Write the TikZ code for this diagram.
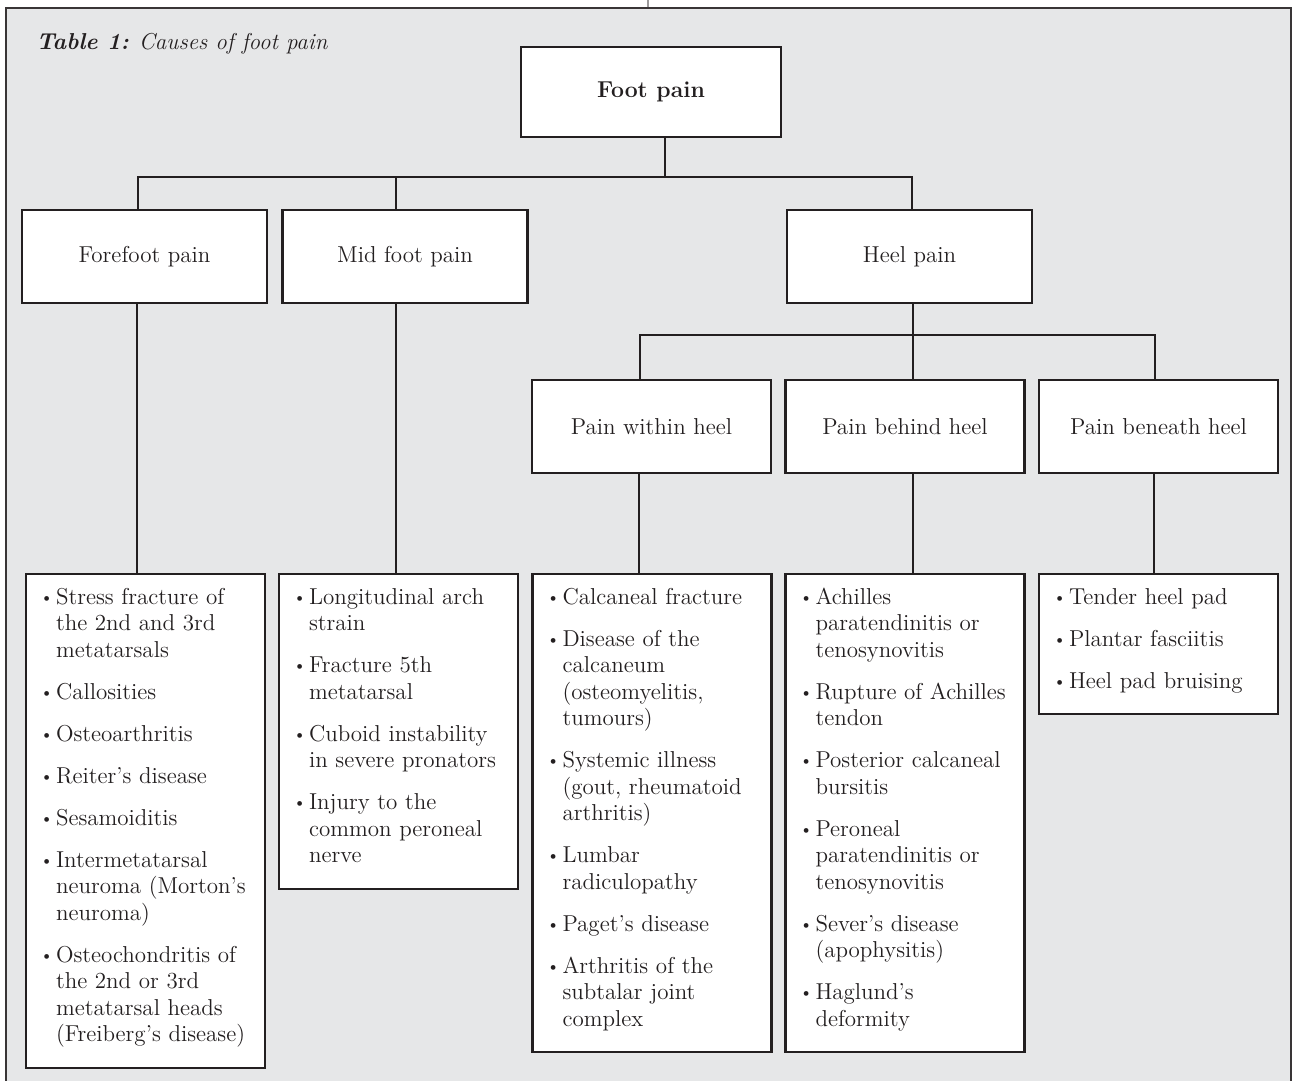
\documentclass[tikz,border=0pt]{standalone}
\usepackage{xcolor}
\usepackage{tikz}

\definecolor{tablegray}{HTML}{E6E7E8}
\definecolor{ink}{HTML}{231F20}
\newcommand{\bul}{\makebox[8pt][l]{\raisebox{0.9pt}{\footnotesize\textbullet}}}
\newcommand{\listgap}{\\[7.75pt]}

\begin{document}
\begin{tikzpicture}[x=0.5pt, y=-0.5pt,
      box/.style={rectangle, draw=ink, line width=1.2pt, fill=white, minimum height=46.5pt, align=center, text=ink, font=\fontsize{11.5}{13.25}\selectfont},
      listbox/.style={rectangle, draw=ink, line width=1.2pt, fill=white, anchor=north, text width=105.5pt, inner xsep=7pt, inner ysep=5.75pt, align=left, text=ink, font=\fontsize{11.5}{13.25}\selectfont},
      link/.style={draw=ink, line width=1pt}
    ]
      \useasboundingbox (0,0) rectangle (1292,1081);
      \draw[ink!45, line width=0.6pt] (648,0) -- (648,8);
      \draw[fill=tablegray, draw=ink!90, line width=1.4pt] (6,8) rectangle (1291,1100);

      \node[anchor=base west, text=ink, font=\fontsize{11.5}{13.25}\selectfont, inner sep=0pt] (title) at (36,50) {\textbf{\textit{Table 1:}} \textit{Causes of foot pain}};

      \node[box, minimum width=130pt, minimum height=45pt, font=\fontsize{11.5}{13.25}\selectfont\bfseries] (foot) at (651,92) {Foot pain};
      \node[box, minimum width=122.5pt] (forefoot) at (144.5,256.5) {Forefoot pain};
      \node[box, minimum width=122.5pt] (midfoot)  at (405,256.5)   {Mid foot pain};
      \node[box, minimum width=122.5pt] (heel)     at (909.5,256.5) {Heel pain};
      \node[box, minimum width=119.5pt] (within)   at (651.5,426.5) {Pain within heel};
      \node[box, minimum width=119.5pt] (behind)   at (905,426.5)   {Pain behind heel};
      \node[box, minimum width=119.5pt] (beneath)  at (1158.5,426.5){Pain beneath heel};

      \node[listbox] (forefootlist) at (145.5,573) {\begin{tabular}{@{}l@{}l@{}}
        \bul & Stress fracture of\\ & the 2nd and 3rd\\ & metatarsals\listgap
        \bul & Callosities\listgap
        \bul & Osteoarthritis\listgap
        \bul & Reiter’s disease\listgap
        \bul & Sesamoiditis\listgap
        \bul & Intermetatarsal\\ & neuroma (Morton’s\\ & neuroma)\listgap
        \bul & Osteochondritis of\\ & the 2nd or 3rd\\ & metatarsal heads\\ & (Freiberg’s disease)\\[3.25pt]
      \end{tabular}};
      \node[listbox] (midfootlist) at (398.5,573) {\begin{tabular}{@{}l@{}l@{}}
        \bul & Longitudinal arch\\ & strain\listgap
        \bul & Fracture 5th\\ & metatarsal\listgap
        \bul & Cuboid instability\\ & in severe pronators\listgap
        \bul & Injury to the\\ & common peroneal\\ & nerve\\[3.25pt]
      \end{tabular}};
      \node[listbox] (withinlist) at (652,573) {\begin{tabular}{@{}l@{}l@{}}
        \bul & Calcaneal fracture\listgap
        \bul & Disease of the\\ & calcaneum\\ & (osteomyelitis,\\ & tumours)\listgap
        \bul & Systemic illness\\ & (gout, rheumatoid\\ & arthritis)\listgap
        \bul & Lumbar\\ & radiculopathy\listgap
        \bul & Paget’s disease\listgap
        \bul & Arthritis of the\\ & subtalar joint\\ & complex\\[3.25pt]
      \end{tabular}};
      \node[listbox] (behindlist) at (905,573) {\begin{tabular}{@{}l@{}l@{}}
        \bul & Achilles\\ & paratendinitis or\\ & tenosynovitis\listgap
        \bul & Rupture of Achilles\\ & tendon\listgap
        \bul & Posterior calcaneal\\ & bursitis\listgap
        \bul & Peroneal\\ & paratendinitis or\\ & tenosynovitis\listgap
        \bul & Sever’s disease\\ & (apophysitis)\listgap
        \bul & Haglund’s\\ & deformity\\[3.25pt]
      \end{tabular}};
      \node[listbox] (beneathlist) at (1158.5,573) {\begin{tabular}{@{}l@{}l@{}}
        \bul & Tender heel pad\listgap
        \bul & Plantar fasciitis\listgap
        \bul & Heel pad bruising\\[3.25pt]
      \end{tabular}};

      % tree lines
      \draw[link] ([xshift=7pt]foot.south) -- ++(0,39) coordinate (split1);
      \draw[link] ([xshift=-3.25pt]forefoot.north) |- (split1) -| ([xshift=1.25pt]heel.north);
      \draw[link] ([xshift=-4.5pt]midfoot.north) -- ([xshift=-4.5pt]midfoot.north |- split1);
      \draw[link] ([xshift=-4.25pt]forefootlist.north) -- ([xshift=-4.25pt]forefootlist.north |- forefoot.south);
      \draw[link] ([xshift=-1.25pt]midfootlist.north) -- ([xshift=-1.25pt]midfootlist.north |- midfoot.south);
      \draw[link] ([xshift=1.75pt]heel.south) -- ++(0,31) coordinate (split2);
      \draw[link] ([xshift=-5.75pt]within.north) |- (split2) -| ([xshift=-1.75pt]beneath.north);
      \draw[link] (split2) -- (split2 |- behind.north);
      \draw[link] ([xshift=-6.5pt]withinlist.north) -- ([xshift=-6.5pt]withinlist.north |- within.south);
      \draw[link] ([xshift=4pt]behindlist.north) -- ([xshift=4pt]behindlist.north |- behind.south);
      \draw[link] ([xshift=-2.25pt]beneathlist.north) -- ([xshift=-2.25pt]beneathlist.north |- beneath.south);
    \end{tikzpicture}
\end{document}
